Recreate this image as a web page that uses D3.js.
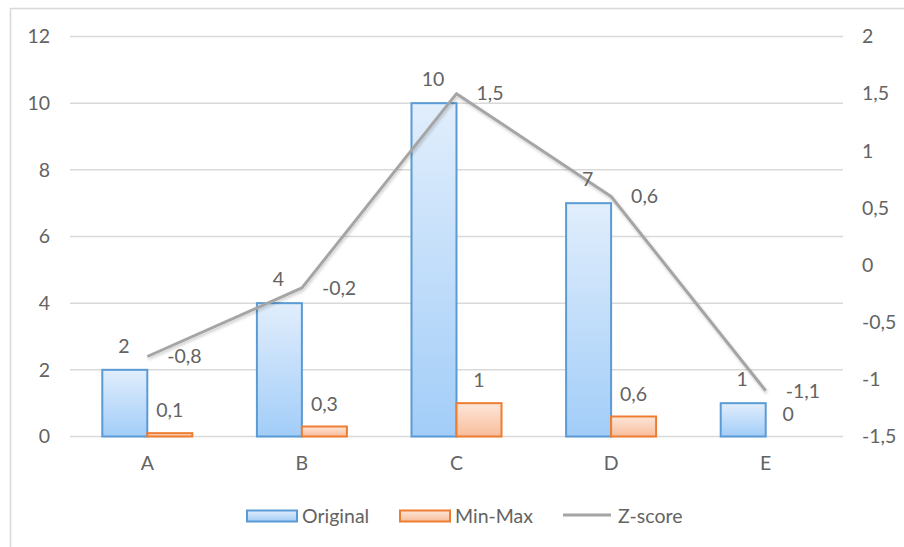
<!DOCTYPE html>
<html>
<head>
<meta charset="utf-8">
<script src="https://cdn.jsdelivr.net/npm/d3@7"></script>
<style>
  html, body { margin: 0; padding: 0; background: #fff; }
  svg { display: block; font-family: Lato, "Open Sans", sans-serif; }
</style>
</head>
<body>
<svg id="chart" width="904" height="547"></svg>
<script>
const categories = ["A", "B", "C", "D", "E"];
const originalValues = [2, 4, 10, 7, 1];
const minMaxValues = [0.1, 0.3, 1, 0.6, 0];
const zScoreValues = [-0.8, -0.2, 1.5, 0.6, -1.1];
const leftTicks = [0, 2, 4, 6, 8, 10, 12];
const rightTicks = [-1.5, -1, -0.5, 0, 0.5, 1, 1.5, 2];
const seriesNames = ["Original", "Min-Max", "Z-score"];

const svg = d3.select("#chart");
const plot = { left: 70, right: 843, top: 36.5, bottom: 436.5 };
const textColor = "#636363";
const FS = 19.5;
const fmt = v => String(Math.round(v * 10) / 10).replace(".", ",");

// gradients
const defs = svg.append("defs");
function grad(id, top, bottom) {
  const g = defs.append("linearGradient").attr("id", id)
    .attr("x1", 0).attr("y1", 0).attr("x2", 0).attr("y2", 1);
  g.append("stop").attr("offset", "0%").attr("stop-color", top);
  g.append("stop").attr("offset", "100%").attr("stop-color", bottom);
}
grad("gBlue", "#e1eefc", "#a2cdf8");
grad("gOrange", "#fde6d9", "#f8bd9b");
const sh = defs.append("filter").attr("id", "shadow").attr("x", "-10%").attr("y", "-10%").attr("width", "120%").attr("height", "130%");
sh.append("feDropShadow").attr("dx", 1).attr("dy", 2).attr("stdDeviation", 1.5).attr("flood-color", "#000").attr("flood-opacity", 0.2);

// frame
svg.append("rect").attr("x", 10.5).attr("y", 8.5).attr("width", 1000).attr("height", 1000)
  .attr("fill", "#fff").attr("stroke", "#d9d9d9").attr("stroke-width", 1.5);

const x = d3.scaleBand().domain(categories).range([plot.left, plot.right]).paddingInner(0).paddingOuter(0);
const xSub = d3.scaleBand().domain(["o", "m"]).range([0, 90]);
const groupOffset = (x.bandwidth() - 90) / 2;
const yL = d3.scaleLinear().domain([0, 12]).range([plot.bottom, plot.top]);
const yR = d3.scaleLinear().domain([-1.5, 2]).range([plot.bottom, plot.top]);

// gridlines
svg.append("g").selectAll("line").data(leftTicks).join("line")
  .attr("x1", plot.left).attr("x2", plot.right)
  .attr("y1", d => yL(d)).attr("y2", d => yL(d))
  .attr("stroke", "#d9d9d9").attr("stroke-width", 1.5);

function styleAxis(g) {
  g.select(".domain").remove();
  g.selectAll("text").attr("fill", textColor).attr("font-size", FS).attr("font-family", "Lato, sans-serif");
}

// left axis
svg.append("g").attr("transform", `translate(${plot.left},0)`)
  .call(d3.axisLeft(yL).tickValues(leftTicks).tickSize(0).tickPadding(20).tickFormat(fmt))
  .call(styleAxis);

// right axis
svg.append("g").attr("transform", `translate(${plot.right},0)`)
  .call(d3.axisRight(yR).tickValues(rightTicks).tickSize(0).tickPadding(19).tickFormat(fmt))
  .call(styleAxis);

// bottom axis
svg.append("g").attr("transform", `translate(0,${plot.bottom})`)
  .call(d3.axisBottom(x).tickSize(0).tickPadding(20))
  .call(styleAxis);

const data = categories.map((c, i) => ({ c, o: originalValues[i], m: minMaxValues[i], z: zScoreValues[i] }));

// bars
const bars = svg.append("g");
bars.selectAll("rect.o").data(data).join("rect").attr("class", "o")
  .attr("x", d => x(d.c) + groupOffset + xSub("o"))
  .attr("width", xSub.bandwidth())
  .attr("y", d => yL(d.o)).attr("height", d => yL(0) - yL(d.o))
  .attr("fill", "url(#gBlue)").attr("stroke", "#5b9bd5").attr("stroke-width", 2);
bars.selectAll("rect.m").data(data.filter(d => d.m > 0)).join("rect").attr("class", "m")
  .attr("x", d => x(d.c) + groupOffset + xSub("m"))
  .attr("width", xSub.bandwidth())
  .attr("y", d => yL(d.m)).attr("height", d => yL(0) - yL(d.m))
  .attr("fill", "url(#gOrange)").attr("stroke", "#ed7d31").attr("stroke-width", 2);

// line
const cx = d => x(d.c) + x.bandwidth() / 2;
svg.append("path").datum(data)
  .attr("d", d3.line().x(cx).y(d => yR(d.z)))
  .attr("fill", "none").attr("stroke", "#a5a5a5").attr("stroke-width", 3)
  .attr("stroke-linejoin", "round").attr("filter", "url(#shadow)");

// labels
const lab = svg.append("g").attr("fill", textColor).attr("font-size", FS).attr("font-family", "Lato, sans-serif");
lab.selectAll("text.o").data(data).join("text").attr("class", "o")
  .attr("x", d => x(d.c) + groupOffset + xSub("o") + xSub.bandwidth() / 2 - 1)
  .attr("y", d => yL(d.o) - 17)
  .attr("text-anchor", "middle").text(d => fmt(d.o));
lab.selectAll("text.m").data(data).join("text").attr("class", "m")
  .attr("x", d => x(d.c) + groupOffset + xSub("m") + xSub.bandwidth() / 2)
  .attr("y", d => yL(d.m) - 16)
  .attr("text-anchor", "middle").text(d => fmt(d.m));
lab.selectAll("text.z").data(data).join("text").attr("class", "z")
  .attr("x", d => cx(d) + 20)
  .attr("y", d => yR(d.z)).attr("dy", "0.35em")
  .text(d => fmt(d.z));

// legend
const leg = svg.append("g").attr("font-size", FS).attr("font-family", "Lato, sans-serif").attr("fill", textColor);
const legY = 516;
const items = [
  { name: seriesNames[0], x: 247, type: "rect", fill: "url(#gBlue)", stroke: "#5b9bd5" },
  { name: seriesNames[1], x: 400, type: "rect", fill: "url(#gOrange)", stroke: "#ed7d31" },
  { name: seriesNames[2], x: 563, type: "line", stroke: "#a5a5a5" }
];
items.forEach(it => {
  if (it.type === "rect") {
    leg.append("rect").attr("x", it.x).attr("y", legY - 5.5).attr("width", 50).attr("height", 11)
      .attr("fill", it.fill).attr("stroke", it.stroke).attr("stroke-width", 2);
  } else {
    leg.append("line").attr("x1", it.x).attr("x2", it.x + 48).attr("y1", legY - 1).attr("y2", legY - 1)
      .attr("stroke", it.stroke).attr("stroke-width", 3);
  }
  leg.append("text").attr("x", it.x + 55).attr("y", legY).attr("dy", "0.35em").text(it.name);
});
</script>
</body>
</html>
